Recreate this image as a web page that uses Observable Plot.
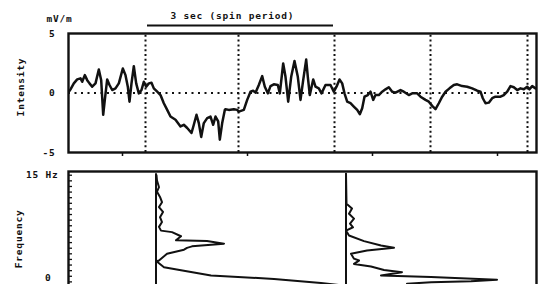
<!DOCTYPE html>
<html><head><meta charset="utf-8">
<script src="https://cdn.jsdelivr.net/npm/d3@7"></script>
<script src="https://cdn.jsdelivr.net/npm/@observablehq/plot@0.6"></script>
<style>
body{margin:0;background:#fff;width:539px;height:284px;overflow:hidden;position:relative}
#top,#bot{position:absolute;left:0}
#top{top:0}
#bot{top:160px}
svg text{font-family:"DejaVu Sans Mono",monospace;font-weight:bold;letter-spacing:0.8px}
</style></head><body><div id="top"></div><div id="bot"></div>
<script>
// ---- top panel: electric field intensity vs time (s) ----
const time = [
 0.152,0.168,0.221,0.275,0.328,0.355,0.397,0.435,0.472,0.515,0.568,0.621,0.659,0.691,0.717,0.755,0.792,0.835,0.888,0.941,
 1.005,1.048,1.085,1.112,1.144,1.181,1.219,1.261,1.304,1.341,1.379,1.421,1.464,1.501,1.555,1.608,1.661,1.715,1.768,1.848,
 1.928,1.981,2.035,2.104,2.141,2.184,2.221,2.259,2.301,2.355,2.408,2.451,2.488,2.531,2.557,2.595,2.637,2.648,2.701,2.781,
 2.835,2.861,2.941,2.995,3.048,3.091,3.128,3.181,3.235,3.277,3.325,3.368,3.421,3.485,3.517,3.571,3.608,3.651,3.699,3.752,
 3.805,3.848,3.891,3.939,3.965,3.997,4.051,4.088,4.141,4.184,4.248,4.328,4.381,4.424,4.472,4.515,4.552,4.595,4.648,4.701,
 4.755,4.797,4.835,4.872,4.925,4.968,5.011,5.048,5.101,5.155,5.208,5.261,5.315,5.368,5.448,5.501,5.581,5.635,5.715,5.768,
 5.848,5.901,5.955,6.008,6.061,6.115,6.168,6.232,6.301,6.355,6.435,6.515,6.595,6.675,6.728,6.765,6.808,6.861,6.915,6.968,
 7.048,7.101,7.155,7.208,7.261,7.315,7.368,7.421,7.475,7.512,7.555,7.608
];
const intensity = [
 0.17,0.31,0.81,1.14,1.23,0.94,1.5,1.08,0.81,0.53,0.81,1.98,1.08,-1.83,-0.58,1.14,0.67,0.25,0.39,0.81,
 2.06,1.5,0.53,-0.73,0.81,2.25,0.81,-0.03,0.25,0.94,0.53,0.81,0.86,0.39,0.11,-0.17,-0.86,-1.42,-1.98,-2.25,
 -2.81,-2.67,-2.94,-3.36,-2.67,-1.83,-2.53,-3.69,-2.53,-2.11,-1.98,-2.67,-1.98,-2.39,-3.92,-2.53,-1.42,-1.36,-1.42,-1.36,
 -1.42,-1.56,-1.42,-0.58,0.11,0.19,0.03,0.67,1.42,0.53,-0.03,0.58,0.73,0.67,-0.03,2.48,1.36,-0.73,1.36,2.69,
 1.36,-0.58,1.08,2.81,1.36,-0.17,1.14,0.53,0.39,-0.03,0.67,0.67,0.11,0.53,1.14,0.81,-0.03,-0.73,-0.86,-1.14,
 -1.42,-1.78,-1.28,-0.31,-0.17,0.11,-0.58,-0.17,-0.17,0.11,0.31,0.48,0.11,0.03,0.25,0.11,-0.17,-0.03,-0.03,-0.31,
 -0.58,-0.73,-1.08,-1.36,-0.86,-0.31,0.11,0.39,0.67,0.73,0.58,0.53,0.39,0.19,0.11,-0.44,-0.86,-0.81,-0.44,-0.31,
 -0.31,-0.17,0.11,0.58,0.48,0.25,0.39,0.31,0.53,0.31,0.58,0.39
];
const intensityTicks = [5, 0, -5];
const timeTicks = [1, 3, 5, 7];
const spinMarkers = [1.368, 2.856, 4.392, 5.928, 7.48];
const spinPeriod = {start: 1.40, end: 4.376, label: "3 sec (spin period)"};
const unitLabel = "mV/m";
const intensityLabel = "Intensity";

// ---- bottom panel: spectra (frequency Hz, relative power) ----
const spectrumStarts = [1.536, 4.576];
const spectrum1Freq  = [15.0,14.3,13.4,12.8,12.1,11.4,10.75,10.1,9.4,8.75,8.1,7.6,7.4,6.85,6.3,6.2,5.85,5.5,5.3,5.05,4.5,3.6,3.5,2.7,2.3,1.6,1.15,0.6,0.3,0];
const spectrum1Power = [0.5,1,3,1,4,6,3,7,4,6,3,5,16,25,20,51,68,36,31,28,11,3,0.5,8,25,55,118,165,185,195];
const spectrum2Freq  = [15.2,11.2,10.55,9.85,9.2,8.55,8.05,7.6,6.95,6.2,5.6,5.3,4.95,4.5,3.85,3.6,3.15,2.8,2.35,2.05,1.6,1.4,1.05,0.85,0.7,0.5];
const spectrum2Power = [0,0.5,6,3,8,4,7,0,3,18,35,48,21,5,8,13,8,25,38,56,35,85,151,125,85,61];
const freqMax = 15;
const freqLabel = "Frequency";
const freqTicks = d3.range(0, 15.01, 0.75);
const powerToSeconds = 0.016; // relative power unit -> time-axis offset

const ink = "#111";
const xDomain = [0.136, 7.624];
const font = {fontFamily: "DejaVu Sans Mono", fontWeight: "bold", fontSize: 9.5, fill: ink};

const signal = time.map((t, i) => ({t, v: intensity[i]}));

const topPlot = Plot.plot({
  width: 539, height: 160,
  marginLeft: 68, marginRight: 3, marginTop: 33, marginBottom: 8,
  style: {background: "transparent", overflow: "visible"},
  x: {domain: xDomain, axis: null},
  y: {domain: [-5, 5], axis: null},
  marks: [
    Plot.ruleY([0], {stroke: ink, strokeWidth: 2, strokeDasharray: "2,4.5"}),
    Plot.ruleX(spinMarkers, {y1: -5, y2: 5, stroke: ink, strokeWidth: 2, strokeDasharray: "2,2.8"}),
    Plot.line(signal, {x: "t", y: "v", stroke: ink, strokeWidth: 2.5, strokeLinejoin: "round"}),
    Plot.frame({stroke: ink, strokeWidth: 2.4}),
    Plot.axisY(intensityTicks, {label: null, tickSize: 0, tickPadding: 13, ...font, tickFormat: d => String(d)}),
    Plot.axisX(timeTicks, {label: null, anchor: "bottom", tickSize: 4, tickFormat: () => "", stroke: ink, strokeWidth: 1.5}),
    Plot.ruleY([5.67], {x1: spinPeriod.start, x2: spinPeriod.end, stroke: ink, strokeWidth: 2}),
    Plot.text([spinPeriod.label], {x: (spinPeriod.start + spinPeriod.end) / 2 - 0.13, y: 6.5, ...font}),
    Plot.text([unitLabel], {x: xDomain[0], y: 6.25, dx: -9, ...font}),
    Plot.text([intensityLabel], {x: xDomain[0], y: 0.5, dx: -48, rotate: -90, ...font})
  ]
});
document.getElementById("top").append(topPlot);

const spectra = [];
[spectrum1Freq, spectrum2Freq].forEach((freqs, k) => {
  const powers = k === 0 ? spectrum1Power : spectrum2Power;
  freqs.forEach((f, i) => spectra.push({spin: k, f, x: spectrumStarts[k] + powers[i] * powerToSeconds}));
});

const botPlot = Plot.plot({
  width: 539, height: 135,
  marginLeft: 68, marginRight: 3, marginTop: 11, marginBottom: 8,
  style: {background: "transparent", overflow: "visible"},
  x: {domain: xDomain, axis: null},
  y: {domain: [0, 15.5], axis: null},
  marks: [
    Plot.frame({stroke: ink, strokeWidth: 2.4}),
    Plot.axisY(freqTicks, {label: null, anchor: "left", tickSize: -4, tickFormat: () => "", stroke: ink, strokeWidth: 1.3}),
    Plot.text(["15 Hz"], {x: xDomain[0], y: freqMax, dx: -10, textAnchor: "end", ...font}),
    Plot.text(["0"], {x: xDomain[0], y: 0, dx: -17, dy: -10, textAnchor: "end", ...font}),
    Plot.text([freqLabel], {x: xDomain[0], y: 6.5, dx: -50, rotate: -90, ...font}),
    Plot.ruleX(spectrumStarts, {y1: 0, y2: freqMax + 0.2, stroke: ink, strokeWidth: 2}),
    Plot.line(spectra, {x: "x", y: "f", z: "spin", stroke: ink, strokeWidth: 2, strokeLinejoin: "round"})
  ]
});
document.getElementById("bot").append(botPlot);
</script>
</body></html>
